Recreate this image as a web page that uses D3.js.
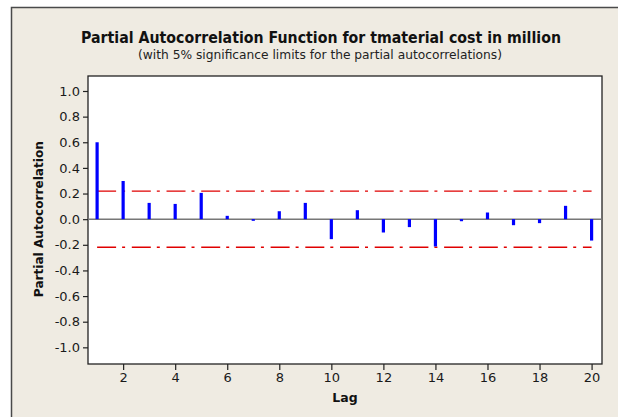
<!DOCTYPE html>
<html>
<head>
<meta charset="utf-8">
<script src="https://cdn.jsdelivr.net/npm/d3@7"></script>
<style>
  body { margin: 0; background: #fff; }
  svg { display: block; font-family: Tahoma, "DejaVu Sans", sans-serif; }
</style>
</head>
<body>
<svg id="chart" width="618" height="417"></svg>
<script>
// chart values
var lags = [1,2,3,4,5,6,7,8,9,10,11,12,13,14,15,16,17,18,19,20];
var pacf = [0.60, 0.298, 0.127, 0.119, 0.205, 0.026, -0.013, 0.062, 0.127, -0.156,
            0.070, -0.104, -0.062, -0.213, -0.016, 0.052, -0.047, -0.031, 0.104, -0.167];
var sigLimit = 0.219;
var xTicks = [2,4,6,8,10,12,14,16,18,20];
var yTicks = [-1.0,-0.8,-0.6,-0.4,-0.2,0.0,0.2,0.4,0.6,0.8,1.0];

var titleText = "Partial Autocorrelation Function for tmaterial cost in million";
var subText = "(with 5% significance limits for the partial autocorrelations)";

var svg = d3.select('#chart');

// outer beige panel (frame runs off right/bottom)
svg.append('rect')
  .attr('x', 11.5).attr('y', 7.5)
  .attr('width', 640).attr('height', 440)
  .attr('fill', '#efebe2')
  .attr('stroke', '#4a4a4a').attr('stroke-width', 1.5);

var plot = {left: 88, right: 602, top: 76, bottom: 364};

var x = d3.scaleLinear().domain([0.65, 20.4]).range([plot.left, plot.right]);
var y = d3.scaleLinear().domain([-1.13, 1.117]).range([plot.bottom, plot.top]);

// plot area
svg.append('rect')
  .attr('x', plot.left).attr('y', plot.top)
  .attr('width', plot.right - plot.left).attr('height', plot.bottom - plot.top)
  .attr('fill', '#fff')
  .attr('stroke', '#222').attr('stroke-width', 1.3);

// zero reference line
svg.append('line')
  .attr('x1', plot.left).attr('x2', plot.right)
  .attr('y1', y(0)).attr('y2', y(0))
  .attr('stroke', '#777').attr('stroke-width', 1.5);

// significance limits
svg.selectAll('line.lim').data([sigLimit, -sigLimit]).enter().append('line')
  .attr('class', 'lim')
  .attr('x1', x(lags[0])).attr('x2', x(lags[lags.length-1]))
  .attr('y1', function(d){ return y(d); })
  .attr('y2', function(d){ return y(d); })
  .attr('stroke', '#e00000').attr('stroke-width', 1.4)
  .attr('stroke-dasharray', '19,6,3,6.7');

// spikes
svg.selectAll('line.bar').data(pacf).enter().append('line')
  .attr('class', 'bar')
  .attr('x1', function(d, i){ return x(lags[i]); })
  .attr('x2', function(d, i){ return x(lags[i]); })
  .attr('y1', y(0))
  .attr('y2', function(d){ return y(d); })
  .attr('stroke', '#0000ff').attr('stroke-width', 3.2);

// axes
var fmt = function(d){ return d3.format('.1f')(d).replace('\u2212', '-'); };

var yAxis = svg.append('g')
  .attr('transform', 'translate(' + plot.left + ',0)')
  .call(d3.axisLeft(y).tickValues(yTicks).tickFormat(fmt).tickSize(5).tickPadding(3));
var xAxis = svg.append('g')
  .attr('transform', 'translate(0,' + plot.bottom + ')')
  .call(d3.axisBottom(x).tickValues(xTicks).tickFormat(d3.format('d')).tickSize(6).tickPadding(3));

[yAxis, xAxis].forEach(function(g){
  g.select('.domain').remove();
  g.selectAll('line').attr('stroke', '#222').attr('stroke-width', 1.2);
  g.selectAll('text').attr('fill', '#1a1a1a')
    .style('font-family', 'Tahoma, "DejaVu Sans", sans-serif')
    .style('font-size', '13px');
});

// titles
svg.append('text')
  .attr('x', 321).attr('y', 43)
  .attr('text-anchor', 'middle')
  .attr('font-weight', 'bold').attr('font-size', 15).attr('fill', '#111')
  .attr('textLength', 480).attr('lengthAdjust', 'spacingAndGlyphs')
  .text(titleText);

svg.append('text')
  .attr('x', 320).attr('y', 59)
  .attr('text-anchor', 'middle')
  .attr('font-size', 12).attr('fill', '#222')
  .attr('textLength', 364).attr('lengthAdjust', 'spacingAndGlyphs')
  .text(subText);

svg.append('text')
  .attr('x', 345).attr('y', 402)
  .attr('text-anchor', 'middle')
  .attr('font-weight', 'bold').attr('font-size', 12.5).attr('fill', '#111')
  .text('Lag');

svg.append('text')
  .attr('transform', 'translate(43,' + y(0) + ') rotate(-90)')
  .attr('text-anchor', 'middle')
  .attr('font-weight', 'bold').attr('font-size', 12.5).attr('fill', '#111')
  .attr('textLength', 156).attr('lengthAdjust', 'spacingAndGlyphs')
  .text('Partial Autocorrelation');
</script>
</body>
</html>
